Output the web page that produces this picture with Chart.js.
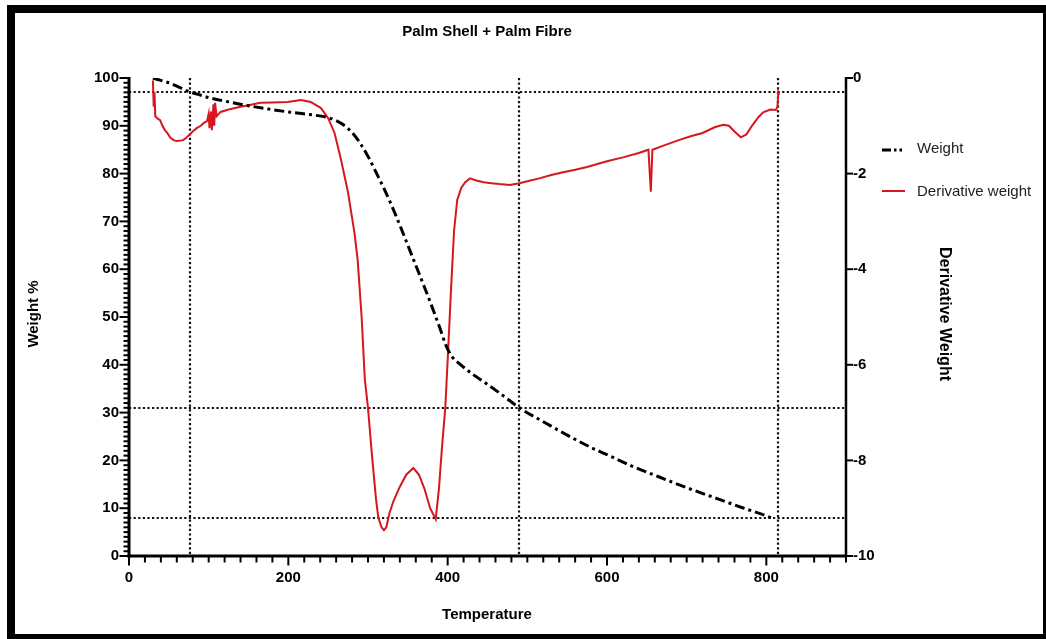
<!DOCTYPE html>
<html>
<head>
<meta charset="utf-8">
<title>Palm Shell + Palm Fibre</title>
<script src="https://cdn.jsdelivr.net/npm/chart.js@4.4.0/dist/chart.umd.min.js"></script>
<style>
  html, body { margin: 0; padding: 0; background: #fff; }
  canvas { display: block; }
</style>
</head>
<body>
<canvas id="tga" width="1046" height="639"></canvas>
<script>
// Thermogravimetric run: weight loss and its derivative versus temperature
const weightTemps = [30, 40, 50, 60, 76, 90, 100, 125, 150, 175, 200, 225, 250, 260, 270, 280, 290, 300, 310,
  320, 330, 340, 350, 360, 370, 380, 390, 398, 405, 415, 430, 450, 470, 490, 520, 550, 580, 600, 630, 660,
  700, 740, 770, 800, 806];
const weightValues = [100, 99.5, 99, 98.3, 97.1, 96.4, 95.9, 95, 94.2, 93.5, 92.9, 92.4, 91.7, 91.1, 90.1,
  88.6, 86.4, 83.6, 80.3, 76.9, 73.2, 69.2, 65, 60.8, 56.6, 52.3, 47.8, 44, 41.8, 40.2, 38.2, 35.9, 33.5,
  31, 28.1, 25.3, 22.7, 21.2, 18.9, 16.9, 14.3, 11.9, 10.1, 8.4, 8.0];

const derivTemps = [30, 31, 32, 33, 36, 39, 42, 45, 48, 52, 56, 60, 64, 68, 72, 75, 80, 85, 90, 94, 98,
  100, 101, 103, 104, 106, 107, 108, 110, 115, 125, 140, 150, 165, 180, 199, 216, 228, 241, 250, 258,
  266, 275, 283, 287, 292, 296, 300, 305, 310, 313, 317, 320, 323, 327, 332, 340, 348, 357, 364, 371,
  378, 385, 389, 393, 397, 400, 404, 408, 412, 417, 422, 428, 435, 445, 455, 465, 478, 490, 500, 515,
  530, 545, 560, 575, 590, 600, 620, 640, 652, 655, 657, 670, 690, 705, 720, 735, 746, 753, 760, 768,
  775, 782, 790, 796, 805, 812, 814, 815, 816];
const derivValues = [-0.05, -0.6, -0.3, -0.8, -0.85, -0.88, -1.0, -1.09, -1.15, -1.25, -1.3, -1.32, -1.31,
  -1.3, -1.25, -1.2, -1.12, -1.05, -1.0, -0.94, -0.9, -0.75, -1.05, -0.7, -1.09, -0.55, -1.0, -0.52, -0.8,
  -0.71, -0.66, -0.6, -0.57, -0.52, -0.51, -0.5, -0.46, -0.5, -0.63, -0.84, -1.15, -1.7, -2.4, -3.24,
  -3.8, -5.0, -6.3, -6.9, -7.9, -8.8, -9.2, -9.4, -9.46, -9.4, -9.1, -8.85, -8.55, -8.3, -8.16, -8.3,
  -8.6, -9.0, -9.23, -8.6, -7.7, -6.9, -5.9, -4.5, -3.2, -2.55, -2.3, -2.18, -2.1, -2.14, -2.18, -2.2,
  -2.22, -2.24, -2.2, -2.16, -2.1, -2.03, -1.97, -1.92, -1.86, -1.79, -1.74, -1.66, -1.57, -1.5, -2.38,
  -1.5, -1.42, -1.3, -1.22, -1.15, -1.03, -0.98, -1.0, -1.12, -1.24, -1.18, -1.0, -0.82, -0.72, -0.66,
  -0.67, -0.6, -0.3, -0.35];

// Dotted guide lines
const guideTemps = [76, 490, 815];
const guideWeights = [97, 31, 8];

// Tick labels
const tempTicks = [0, 200, 400, 600, 800];
const weightTicks = [0, 10, 20, 30, 40, 50, 60, 70, 80, 90, 100];
const derivTicks = [-10, -8, -6, -4, -2, 0];

const FONT = '"Liberation Sans", Arial, Helvetica, sans-serif';

const chrome = {
  id: 'chrome',
  beforeDraw(chart) {
    const ctx = chart.ctx;
    ctx.save();
    ctx.fillStyle = '#fff';
    ctx.fillRect(0, 0, chart.width, chart.height);
    ctx.restore();
  },
  beforeDatasetsDraw(chart) {
    const {ctx, chartArea: a, scales} = chart;
    ctx.save();
    ctx.strokeStyle = '#111';
    ctx.lineWidth = 2.2;
    ctx.setLineDash([2.2, 2.4]);
    guideWeights.forEach(w => {
      const y = Math.round(scales.y.getPixelForValue(w));
      ctx.beginPath(); ctx.moveTo(a.left, y); ctx.lineTo(a.right, y); ctx.stroke();
    });
    guideTemps.forEach(t => {
      const x = Math.round(scales.x.getPixelForValue(t));
      ctx.beginPath(); ctx.moveTo(x, a.top); ctx.lineTo(x, a.bottom); ctx.stroke();
    });
    ctx.restore();
  },
  afterDraw(chart) {
    const {ctx, chartArea: a, scales} = chart;
    ctx.save();
    ctx.strokeStyle = '#000';
    ctx.setLineDash([]);

    // axis lines
    ctx.lineWidth = 3;
    ctx.beginPath(); ctx.moveTo(a.left, a.top - 1); ctx.lineTo(a.left, a.bottom + 1.5); ctx.stroke();
    ctx.beginPath(); ctx.moveTo(a.left - 1.5, a.bottom); ctx.lineTo(a.right + 1, a.bottom); ctx.stroke();
    ctx.lineWidth = 2.5;
    ctx.beginPath(); ctx.moveTo(a.right, a.top - 1); ctx.lineTo(a.right, a.bottom); ctx.stroke();

    // tick marks
    ctx.lineWidth = 2;
    for (let v = 0; v <= 100; v += 1) {
      const y = scales.y.getPixelForValue(v);
      const len = v % 10 === 0 ? 8 : 4;
      ctx.beginPath(); ctx.moveTo(a.left - 1.5 - len, y); ctx.lineTo(a.left, y); ctx.stroke();
    }
    for (let v = 0; v <= 900; v += 20) {
      const x = scales.x.getPixelForValue(v);
      const len = v % 200 === 0 ? 8 : 5;
      ctx.beginPath(); ctx.moveTo(x, a.bottom); ctx.lineTo(x, a.bottom + 1.5 + len); ctx.stroke();
    }
    derivTicks.forEach(v => {
      const y = scales.y2.getPixelForValue(v);
      ctx.beginPath(); ctx.moveTo(a.right, y); ctx.lineTo(a.right + 7, y); ctx.stroke();
    });

    // titles
    ctx.fillStyle = '#000';
    ctx.textAlign = 'center';
    ctx.textBaseline = 'middle';
    ctx.font = 'bold 15px ' + FONT;
    ctx.fillText('Palm Shell + Palm Fibre', 487, 32);
    ctx.fillText('Temperature', 487, 615);

    ctx.save();
    ctx.translate(34, 314);
    ctx.rotate(-Math.PI / 2);
    ctx.fillText('Weight %', 0, 0);
    ctx.restore();

    ctx.save();
    ctx.translate(944, 314);
    ctx.rotate(Math.PI / 2);
    ctx.font = 'bold 16px ' + FONT;
    ctx.fillText('Derivative Weight', 0, 0);
    ctx.restore();

    // legend
    const ds = chart.data.datasets;
    ctx.textAlign = 'left';
    ctx.font = '15px ' + FONT;
    ctx.fillStyle = '#222';
    ctx.fillText(ds[0].label, 917, 149);
    ctx.fillText(ds[1].label, 917, 192);
    ctx.strokeStyle = ds[0].borderColor;
    ctx.lineWidth = 3;
    ctx.setLineDash([9, 3, 2.5, 3, 2.5, 3]);
    ctx.beginPath(); ctx.moveTo(882, 150); ctx.lineTo(905, 150); ctx.stroke();
    ctx.setLineDash([]);
    ctx.strokeStyle = ds[1].borderColor;
    ctx.lineWidth = 2;
    ctx.beginPath(); ctx.moveTo(882, 191); ctx.lineTo(905, 191); ctx.stroke();

    // black frame
    ctx.fillStyle = '#000';
    ctx.fillRect(7, 5, chart.width - 7, 8);
    ctx.fillRect(7, 5, 8, chart.height - 5);
    ctx.fillRect(1043, 5, chart.width - 1043, chart.height - 5);
    ctx.fillRect(7, 634, chart.width - 7, chart.height - 634);
    ctx.restore();
  }
};

const tickFont = {family: FONT, size: 15, weight: 'bold'};

new Chart(document.getElementById('tga'), {
  type: 'line',
  data: {
    datasets: [
      {
        label: 'Weight',
        data: weightTemps.map((t, i) => ({x: t, y: weightValues[i]})),
        yAxisID: 'y',
        borderColor: '#000',
        borderWidth: 3,
        borderDash: [10, 4, 3, 4],
        pointRadius: 0,
        cubicInterpolationMode: 'monotone',
        fill: false
      },
      {
        label: 'Derivative weight',
        data: derivTemps.map((t, i) => ({x: t, y: derivValues[i]})),
        yAxisID: 'y2',
        borderColor: '#d8161f',
        borderWidth: 2,
        pointRadius: 0,
        tension: 0,
        fill: false
      }
    ]
  },
  options: {
    responsive: false,
    animation: false,
    devicePixelRatio: 1,
    layout: {padding: {left: 0, top: 78, right: 140, bottom: 43}},
    plugins: {legend: {display: false}, tooltip: {enabled: false}},
    scales: {
      x: {
        type: 'linear', position: 'bottom', min: 0, max: 900,
        afterBuildTicks: s => { s.ticks = tempTicks.map(v => ({value: v})); },
        afterFit: s => { s.height = 40; },
        grid: {drawOnChartArea: false, drawTicks: false},
        border: {display: false},
        ticks: {font: tickFont, color: '#000', padding: 13, maxRotation: 0, autoSkip: false}
      },
      y: {
        type: 'linear', position: 'left', min: 0, max: 100,
        afterBuildTicks: s => { s.ticks = weightTicks.map(v => ({value: v})); },
        afterFit: s => { s.width = 129; },
        grid: {drawOnChartArea: false, drawTicks: false},
        border: {display: false},
        ticks: {font: tickFont, color: '#000', padding: 10, autoSkip: false}
      },
      y2: {
        type: 'linear', position: 'right', min: -10, max: 0,
        afterBuildTicks: s => { s.ticks = derivTicks.map(v => ({value: v})); },
        afterFit: s => { s.width = 60; },
        grid: {drawOnChartArea: false, drawTicks: false},
        border: {display: false},
        ticks: {font: tickFont, color: '#000', padding: 7, autoSkip: false}
      }
    }
  },
  plugins: [chrome]
});
</script>
</body>
</html>
